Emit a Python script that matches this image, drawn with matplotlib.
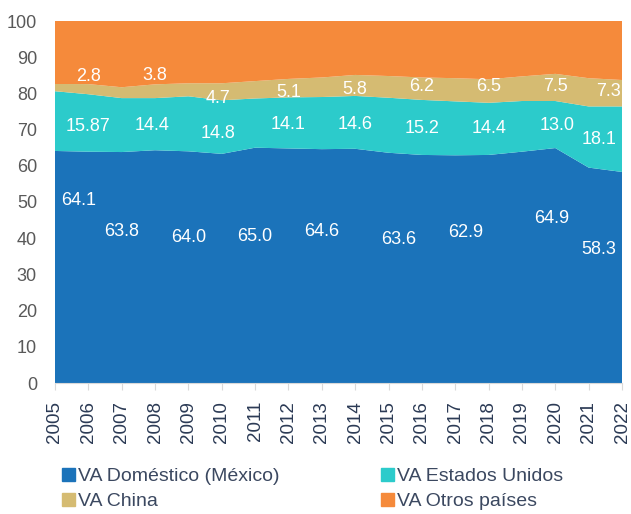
import matplotlib
matplotlib.use("Agg")
import matplotlib.pyplot as plt
from matplotlib.patches import Patch
import numpy as np

plt.rcParams['font.family'] = ['Liberation Sans', 'DejaVu Sans']

years = list(range(2005, 2023))

va_domestico = [64.1, 63.9, 63.8, 64.3, 64.0, 63.3, 65.0, 64.8, 64.6,
                64.7, 63.6, 63.0, 62.9, 63.0, 63.9, 64.9, 59.5, 58.3]
va_eeuu = [16.5, 15.87, 14.9, 14.4, 15.2, 14.8, 13.6, 14.1, 14.4,
           14.6, 15.2, 15.2, 14.9, 14.4, 14.0, 13.0, 16.9, 18.1]
va_china = [2.0, 2.8, 3.0, 3.8, 3.6, 4.7, 4.8, 5.1, 5.4,
            5.8, 6.0, 6.2, 6.4, 6.5, 6.8, 7.5, 7.8, 7.3]
va_otros = [100 - a - b - c for a, b, c in zip(va_domestico, va_eeuu, va_china)]

series_names = ['VA Doméstico (México)', 'VA Estados Unidos', 'VA China', 'VA Otros países']
colors = ['#1b73ba', '#2ccbcb', '#d5bb72', '#f58a3b']

# which years get a value label, and where the label sits (x in years, y in %)
dom_label_years = [2005, 2007, 2009, 2011, 2013, 2015, 2017, 2020, 2022]
dom_label_pos = [(2005.7, 50.3), (2007.0, 41.8), (2009.0, 40.1), (2011.0, 40.4), (2013.0, 41.9),
                 (2015.3, 39.6), (2017.3, 41.5), (2019.9, 45.4), (2021.3, 36.8)]
us_label_years = [2006, 2008, 2010, 2012, 2014, 2016, 2018, 2020, 2022]
us_label_pos = [(2006.0, 70.9), (2007.9, 71.1), (2009.9, 68.9), (2012.0, 71.4), (2014.0, 71.4),
                (2016.0, 70.2), (2018.0, 70.2), (2020.05, 71.1), (2021.3, 67.2)]
cn_label_years = [2006, 2008, 2010, 2012, 2014, 2016, 2018, 2020, 2022]
cn_label_pos = [(2006.0, 84.7), (2008.0, 84.9), (2009.9, 78.5), (2012.0, 80.3), (2014.0, 81.0),
                (2016.0, 81.8), (2018.0, 81.8), (2020.0, 81.8), (2021.6, 80.6)]

fig = plt.figure(figsize=(6.31, 5.14), dpi=100)
ax = fig.add_axes([55 / 631, 1 - 383 / 514, 567 / 631, 362 / 514])

ax.stackplot(years, va_domestico, va_eeuu, va_china, va_otros,
             colors=colors, linewidth=0)

ax.set_xlim(2005, 2022)
ax.set_ylim(0, 100)
ax.set_yticks(np.arange(0, 101, 10))
ax.set_xticks(years)
ax.set_xticklabels([str(y) for y in years], rotation=90)

for s in ['top', 'right', 'left']:
    ax.spines[s].set_visible(False)
ax.spines['bottom'].set_color('#d9d9d9')
ax.tick_params(axis='y', length=0, pad=13, labelsize=13, labelcolor='#595959')
ax.tick_params(axis='x', length=5, width=0.8, color='#d9d9d9', pad=8,
               labelsize=13.5, labelcolor='#2b3a55')


def fmt(v):
    return f'{v:.1f}' if round(v, 1) == v else f'{v:.2f}'


def put_labels(values, label_years, label_pos):
    for yr, (lx, ly) in zip(label_years, label_pos):
        v = values[years.index(yr)]
        ax.text(lx, ly, fmt(v), ha='center', va='center', color='white', fontsize=13)


put_labels(va_domestico, dom_label_years, dom_label_pos)
put_labels(va_eeuu, us_label_years, us_label_pos)
put_labels(va_china, cn_label_years, cn_label_pos)

handles = [Patch(facecolor=c, edgecolor=c) for c in colors]
# legend order: row 1 domestic / US, row 2 China / others
order = [0, 2, 1, 3]
fig.legend([handles[i] for i in order], [series_names[i] for i in order],
           loc='upper left', bbox_to_anchor=(62 / 631, 1 - 468 / 514),
           ncol=2, frameon=False, fontsize=14, labelcolor='#3b4860',
           handlelength=0.65, handleheight=0.65, handletextpad=0.15,
           columnspacing=5.25, labelspacing=0.4, borderaxespad=0, borderpad=0)

fig.savefig('out.png', dpi=100)
